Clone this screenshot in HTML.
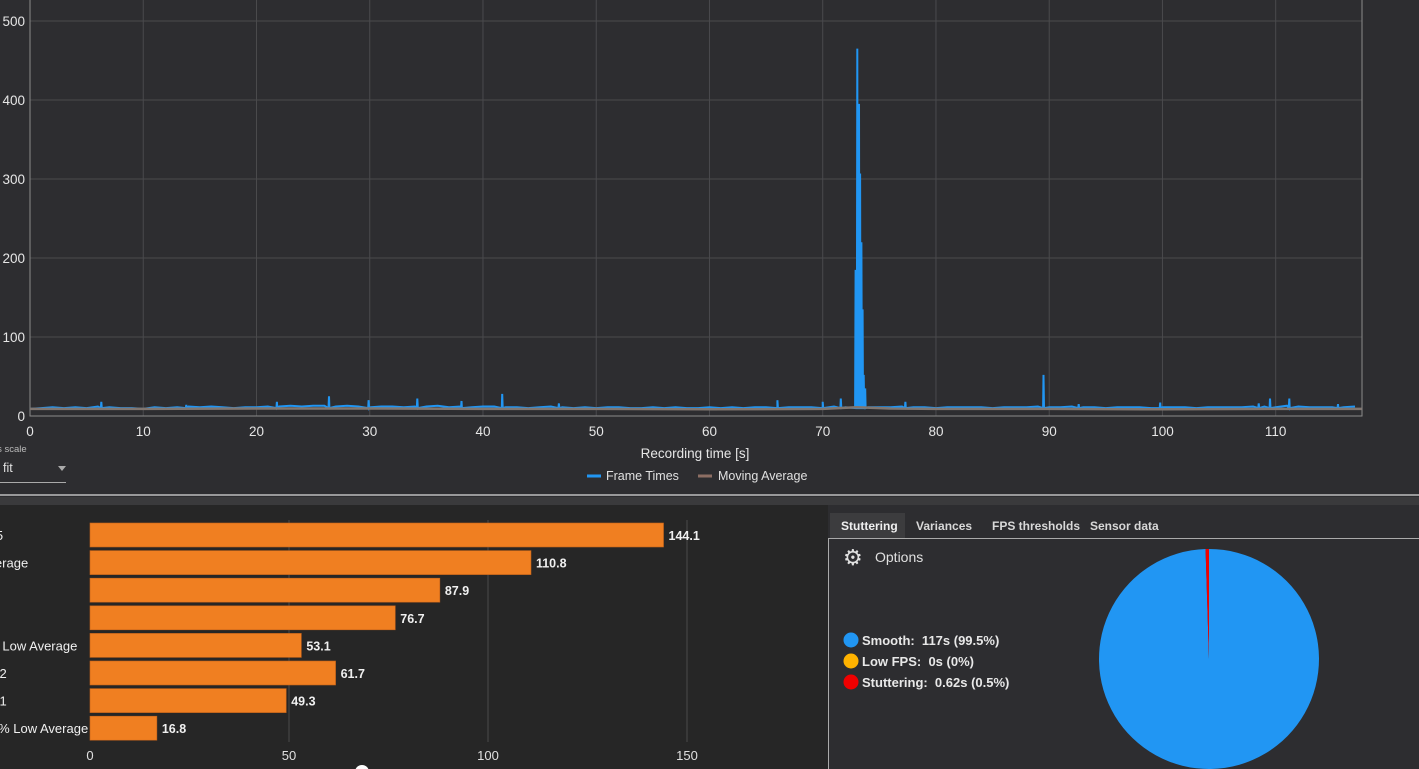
<!DOCTYPE html>
<html><head><meta charset="utf-8">
<style>
html,body{margin:0;padding:0;width:1419px;height:769px;overflow:hidden;background:#2d2d30;font-family:"Liberation Sans",sans-serif;color:#ddd}
svg{position:absolute;left:0;top:0}
text{white-space:pre}
</style></head>
<body>
<svg id="main" width="1419" height="769" xmlns="http://www.w3.org/2000/svg">
<rect x="0" y="0" width="1419" height="496" fill="#2d2d30"/>
<line x1="0" y1="495" x2="1419" y2="495" stroke="#bdbdbd" stroke-width="1.5"/>
<rect x="0" y="497" width="1419" height="8" fill="#3a3a3c"/>
<rect x="0" y="505" width="828" height="264" fill="#262626"/>
<rect x="828" y="505" width="591" height="264" fill="#2d2d30"/>
<g id="lineChart"></g>
<g id="barChart"></g>
<g id="pieArea"></g>
</svg>
<script>
// ---------- line chart data ----------
const baseTimes=[0,1,2,3,4,5,6,7,8,9,10,11,12,13,14,15,16,17,18,19,20,21,22,23,24,25,26,27,28,29,30,31,32,33,34,35,36,37,38,39,40,41,42,43,44,45,46,47,48,49,50,51,52,53,54,55,56,57,58,59,60,61,62,63,64,65,66,67,68,69,70,71,72,74,75,76,77,78,79,80,81,82,83,84,85,86,87,88,89,90,91,92,93,94,95,96,97,98,99,100,101,102,103,104,105,106,107,108,109,110,111,112,113,114,115,116,117];
const baseValues=[9,10,11,10,11,10,12,11,10,10,9,11,10,11,12,11,12,11,10,11,11,12,12,13,12,13,13,12,13,12,11,12,12,11,12,12,13,11,12,11,12,12,11,11,10,11,12,11,10,11,10,11,11,10,10,11,10,11,10,10,11,10,11,10,11,11,12,11,11,11,12,12,11,11,11,11,12,11,11,10,11,11,11,11,10,11,11,11,12,11,11,12,11,11,10,11,11,11,10,11,11,11,10,11,11,11,11,12,12,11,13,12,11,11,11,11,12];
const spikeTimes=[6.3,13.8,21.8,26.4,29.9,34.2,38.1,41.7,46.7,66.0,70.0,71.6,72.9,73.05,73.2,73.3,73.42,73.52,73.62,73.75,77.3,89.5,92.6,99.8,108.5,109.5,111.2,115.5];
const spikeValues=[18,14,18,25,20,22,19,28,16,20,18,22,185,465,395,307,220,135,52,35,18,52,15,17,16,22,22,15];
const maTimes=[0,10,20,30,40,50,60,70,73,76,80,90,100,110,117.6];
const maValues=[9,9,9.5,9.5,9,9,8.5,9,11,9.5,9,9,8.5,9,9];
const xTicks=[0,10,20,30,40,50,60,70,80,90,100,110];
const yTicks=[0,100,200,300,400,500];

// ---------- bar chart data ----------
const barLabels=["P95","Average","P5","P1","1% Low Average","P0.2","P0.1","0.1% Low Average"];
const barValues=[144.1,110.8,87.9,76.7,53.1,61.7,49.3,16.8];
const barTicks=[0,50,100,150];

// ---------- pie data ----------
const pieLabels=["Smooth:  117s (99.5%)","Low FPS:  0s (0%)","Stuttering:  0.62s (0.5%)"];
const pieValues=[99.5,0,0.5];
const pieColors=["#2196f3","#ffb300","#f00000"];

const NS="http://www.w3.org/2000/svg";
function mk(parent,tag,attrs,text){const e=document.createElementNS(NS,tag);for(const k in attrs)e.setAttribute(k,attrs[k]);if(text!==undefined)e.textContent=text;parent.appendChild(e);return e;}

// line chart
const L=document.getElementById('lineChart');
const x0=30,x1=1362,yTop=0,yBot=416;
const xS=t=>x0+t*(1275.7-30)/110;
const yS=v=>yBot-v*(416-21)/500;
yTicks.forEach(v=>{
 const g=mk(L,'line',{x1:x0,x2:x1,y1:yS(v),y2:yS(v),stroke:'#4a4a4d','stroke-width':1});
 
 
 const t=mk(L,'text',{x:25,y:yS(v)+5,'text-anchor':'end','font-size':13.5,fill:'#e6e6e6'},String(v));
 
 
});
xTicks.forEach(v=>{
 const g=mk(L,'line',{x1:xS(v),x2:xS(v),y1:yTop,y2:yBot,stroke:'#4a4a4d','stroke-width':1});
 
 
 const t=mk(L,'text',{x:xS(v),y:436,'text-anchor':'middle','font-size':13.5,fill:'#e6e6e6'},String(v));
 
 
});
const frame=mk(L,'rect',{x:x0,y:-1,width:x1-x0,height:yBot+1,fill:'none',stroke:'#8a8a8a','stroke-width':1});


let pts=baseTimes.map((t,i)=>[t,baseValues[i]]);
spikeTimes.forEach((t,i)=>{pts.push([t-0.04,10]);pts.push([t,spikeValues[i]]);pts.push([t+0.04,10]);});
pts.sort((a,b)=>a[0]-b[0]);
const ftPath=mk(L,'polyline',{points:pts.map(p=>xS(p[0]).toFixed(1)+','+yS(p[1]).toFixed(1)).join(' '),fill:'none',stroke:'#2196f3','stroke-width':2});


const maPath=mk(L,'polyline',{points:maTimes.map((t,i)=>xS(t).toFixed(1)+','+yS(maValues[i]).toFixed(1)).join(' '),fill:'none',stroke:'#807670','stroke-width':2.5});


const xt=mk(L,'text',{x:695,y:458,'text-anchor':'middle','font-size':13.5,fill:'#e6e6e6'},'Recording time [s]');


const l1=mk(L,'line',{x1:587,x2:601,y1:476,y2:476,stroke:'#2196f3','stroke-width':3});


const l1t=mk(L,'text',{x:606,y:480,'font-size':12.5,fill:'#e0e0e0'},'Frame Times');


const l2=mk(L,'line',{x1:698,x2:712,y1:476,y2:476,stroke:'#8d6e63','stroke-width':3});


const l2t=mk(L,'text',{x:718,y:480,'font-size':12.5,fill:'#e0e0e0'},'Moving Average');


const sc=mk(L,'text',{x:-5,y:452,'font-size':9.5,fill:'#bbb'},'is scale');


const dd=mk(L,'g',{});


mk(dd,'text',{x:3,y:472,'font-size':12.5,fill:'#e0e0e0'},'fit');
mk(dd,'polygon',{points:'58,466 66,466 62,471',fill:'#aaa'});
mk(dd,'line',{x1:0,x2:66,y1:482.5,y2:482.5,stroke:'#aaa','stroke-width':1});

// bar chart
const B=document.getElementById('barChart');
const bx=v=>90+v*(687-90)/150;
const rowY=i=>535+i*27.6;
barTicks.forEach(v=>{
 if(v>0){const g=mk(B,'line',{x1:bx(v),x2:bx(v),y1:520,y2:742,stroke:'#4a4a4a','stroke-width':1});
 
 }
 const t=mk(B,'text',{x:bx(v),y:760,'text-anchor':'middle','font-size':13,fill:'#e0e0e0'},String(v));
 
 
});
barValues.forEach((v,i)=>{
 const r=mk(B,'rect',{x:90,y:rowY(i)-12,width:bx(v)-90,height:24,fill:'#f07f21',stroke:'#c4631a','stroke-width':0.6});
 
 
 const t=mk(B,'text',{x:bx(v)+5,y:rowY(i)+5,'font-size':12.5,'font-weight':'bold',fill:'#f0f0f0'},v.toFixed(1));
 
 
 const lb=mk(B,'text',{x:-20,y:rowY(i)+5,'font-size':13,fill:'#f0f0f0'},barLabels[i]);
 
 
});
const knob=mk(B,'circle',{cx:362,cy:772,r:7,fill:'#fff'});



// pie panel
const P=document.getElementById('pieArea');
const tabs=["Stuttering","Variances","FPS thresholds","Sensor data"];
const tabX=[841,916,992,1090];
const act=mk(P,'rect',{x:830,y:513,width:75,height:25,fill:'#3c3c3e'});


tabs.forEach((s,i)=>{
 const t=mk(P,'text',{x:tabX[i],y:530,'font-size':12,'font-weight':'bold',fill:i==0?'#f0f0f0':'#d8d8d8'},s);
 
 
});
const pf=mk(P,'path',{d:'M828.5 769 V538.5 H1419',fill:'none',stroke:'#aaa','stroke-width':1});


const gear=mk(P,'text',{x:843,y:565,'font-size':22,fill:'#e0e0e0'},'⚙');


const opt=mk(P,'text',{x:875,y:562,'font-size':14,fill:'#e0e0e0'},'Options');


pieLabels.forEach((s,i)=>{
 const c=mk(P,'circle',{cx:851,cy:640+i*21,r:7.5,fill:pieColors[i]});
 
 
 const t=mk(P,'text',{x:862,y:645+i*21,'font-size':13,'font-weight':'bold',fill:'#e8e8e8'},s);
 
 
});
const cx=1209,cy=659,R=110;
const tot=pieValues.reduce((a,b)=>a+b,0);
let ang=0;
pieValues.forEach((v,i)=>{
 if(v<=0)return;
 const a0=ang,a1=ang+v/tot*2*Math.PI;ang=a1;
 const p0=[cx+R*Math.sin(a0),cy-R*Math.cos(a0)],p1=[cx+R*Math.sin(a1),cy-R*Math.cos(a1)];
 const large=(a1-a0)>Math.PI?1:0;
 const sl=mk(P,'path',{d:`M${cx},${cy} L${p0[0]},${p0[1]} A${R},${R} 0 ${large} 1 ${p1[0]},${p1[1]} Z`,fill:pieColors[i]});
 
 
});
</script>
</body></html>
